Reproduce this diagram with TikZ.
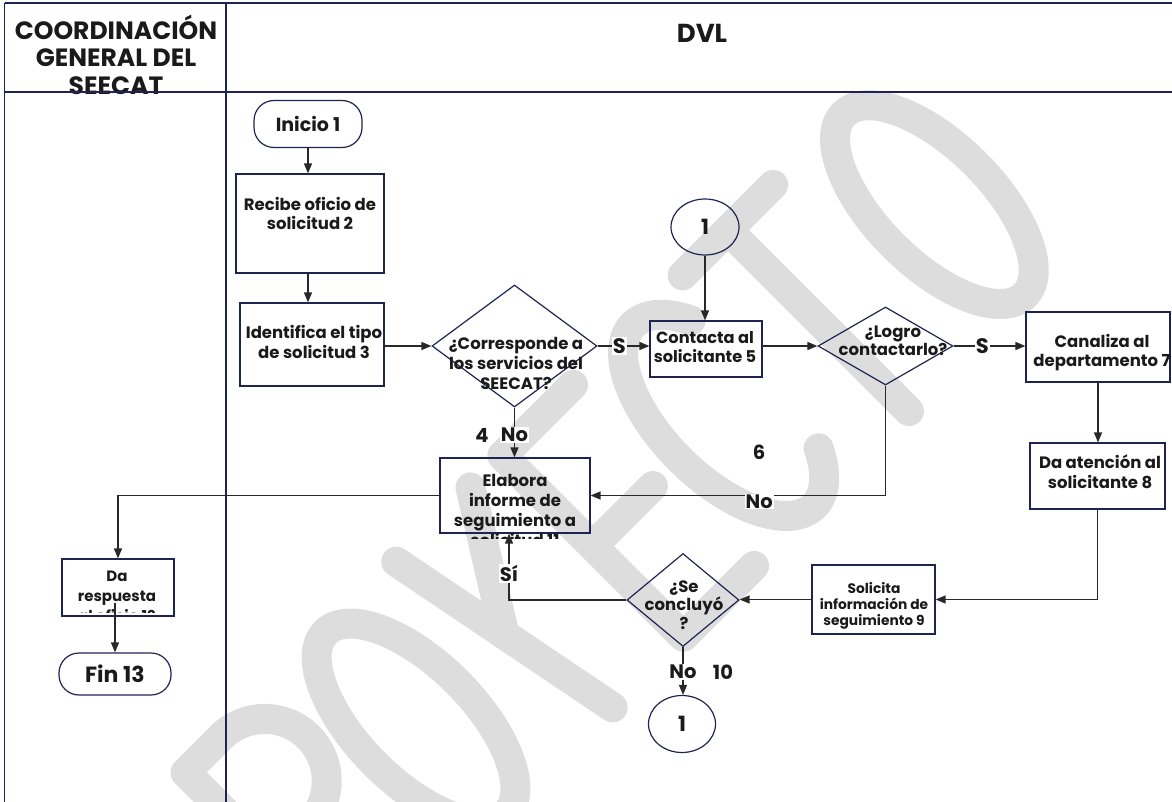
\documentclass[tikz,border=0pt]{standalone}
\usepackage{fontspec}
\setmainfont{Poppins}
\usetikzlibrary{shapes.geometric,arrows.meta}
\definecolor{navy}{RGB}{30,36,82}
\definecolor{ink}{RGB}{26,26,26}
\definecolor{wirec}{RGB}{40,40,40}
\definecolor{wmgray}{RGB}{221,221,221}
\newcommand\fsz[2]{\fontsize{#1}{#2}\selectfont\bfseries}
\begin{document}
\begin{tikzpicture}[x=1pt,y=-1pt,
  box/.style={draw=navy, line width=1.2pt, rectangle, inner sep=0pt},
  term/.style={box, rounded corners=20pt, text=ink},
  dia/.style={draw=navy, line width=1.2pt, diamond, inner sep=0pt},
  conn/.style={draw=navy, line width=1.2pt, ellipse, inner sep=0pt, font=\fsz{21}{24}, text=ink},
  txt/.style={align=center, inner sep=0pt, text=ink, font=\fsz{16.5}{19.5}},
  lbl/.style={fill=white, inner sep=1pt, text=ink, font=\fsz{19.5}{22}},
  num/.style={inner sep=0pt, text=ink, font=\fsz{19.5}{22}},
  wire/.style={draw=wirec, line width=1.3pt},
  flow/.style={wire, -{Triangle[length=10pt,width=8pt]}},
  lane/.style={draw=navy, line width=1.8pt},
  wm/.style={draw=wmgray, line width=30pt, line cap=round, line join=round}]
\useasboundingbox (0,0) rectangle (1172,802);

% watermark lettering, drawn along a 45 degree baseline
\begin{scope}[shift={(660,660)}, rotate=45, x=1pt, y=1pt]
  % R
  \draw[wm] (-415,0) -- (-415,256) -- (-365,256) arc[start angle=90, end angle=-90, radius=62] -- (-415,132);
  \draw[wm] (-380,132) -- (-310,0);
  % O
  \draw[wm] (-217,128) ellipse[x radius=58, y radius=128];
  % Y
  \draw[wm] (-117,256) -- (-67,0);
  \draw[wm] (-12,256) -- (-92,128);
  % E
  \draw[wm] (133,256) -- (33,256) -- (33,0) -- (133,0);
  \draw[wm] (33,128) -- (118,128);
  % C
  \draw[wm] (261.8,218.5) arc[start angle=45, end angle=315, x radius=62, y radius=128];
  % T
  \draw[wm] (288,256) -- (416,256);
  \draw[wm] (352,256) -- (352,0);
  % O
  \draw[wm] (516,128) ellipse[x radius=58, y radius=128];
\end{scope}

% lane headers
\node[align=center, inner sep=0pt, text=ink, font=\fsz{25}{27.5}] (hdrA) at (116,54.5) {COORDINACIÓN\\GENERAL DEL\\SEECAT};
\node[inner sep=0pt, text=ink, font=\fsz{26}{28}] (hdrB) at (702,33) {DVL};

% steps
\node[term, minimum width=108, minimum height=47, font=\fsz{19}{22}] (n1) at (308,124) {Inicio 1};
\node[box, minimum width=148, minimum height=99] (n2) at (310,223.5) {};
\node[txt] (t2) at (310,213.5) {Recibe oficio de\\solicitud 2};
\node[box, minimum width=144, minimum height=83] (n3) at (312,344.5) {};
\node[txt] (t3) at (314,342) {Identifica el tipo\\de solicitud 3};
\node[dia, minimum width=165, minimum height=122] (d4) at (514.5,346) {};
\node[txt, font=\fsz{16.5}{20}] (t4) at (516,363) {¿Corresponde a\\los servicios del\\SEECAT?};
\node[conn, minimum width=68, minimum height=56] (j1) at (705,227) {1};
\node[box, minimum width=112, minimum height=56] (c5) at (706,349) {};
\node[txt, font=\fsz{16.2}{19.5}] (t5) at (705,347) {Contacta al\\solicitante 5};
\node[dia, minimum width=135, minimum height=78] (d6) at (885.5,346) {};
\node[txt, font=\fsz{16.5}{18}] (t6) at (893,341) {¿Logro\\contactarlo?};
\node[box, minimum width=144, minimum height=70] (n7) at (1098,347) {};
\node[txt] (t7) at (1102,352.5) {Canaliza al\\departamento 7};
\node[box, minimum width=135, minimum height=66] (n8) at (1097.5,476) {};
\node[txt] (t8) at (1100,471.5) {Da atención al\\solicitante 8};
\node[box, minimum width=123, minimum height=69] (n9) at (873.5,599.5) {};
\node[txt, font=\fsz{13.8}{16}] (t9) at (874,606) {Solicita\\información de\\seguimiento 9};
\node[dia, minimum width=112, minimum height=93] (d10) at (683,600) {};
\node[txt, font=\fsz{16.5}{18.5}] (t10) at (684,605) {¿Se\\concluyó\\?};
\node[conn, minimum width=67, minimum height=57] (j2) at (682,724) {1};
\node[box, minimum width=150, minimum height=75] (n11) at (515,495.5) {};
\begin{scope}
  \clip (430,450) rectangle (600,538);
  \node[txt, font=\fsz{16.5}{20}] (t11) at (515,510) {Elabora\\informe de\\seguimiento a\\solicitud 11};
\end{scope}
\node[box, minimum width=112, minimum height=57] (n12) at (118,587.5) {};
\begin{scope}
  \clip (50,550) rectangle (190,612);
  \node[txt, font=\fsz{15}{20}] (t12) at (117,596) {Da\\respuesta\\al oficio 12};
\end{scope}
\node[term, minimum width=112, minimum height=42, font=\fsz{22}{24}] (n13) at (115,674) {Fin 13};

% connectors
\draw[flow] (n1.south) -- (n1.south |- n2.north);
\draw[flow] (n2.south -| n1.south) -- (n3.north -| n1.south);
\draw[flow] (n3.east |- d4.west) -- (d4.west);
\draw[flow] (d4.east) -- node[lbl, pos=0.42, font=\fsz{21}{22}] (s1) {S} (c5.west |- d4.east);
\draw[flow] (j1.south) -- (j1.south |- c5.north);
\draw[flow] (c5.east |- d6.west) -- (d6.west);
\draw[flow] (d6.east) -- node[lbl, pos=0.4, font=\fsz{21}{22}] (s2) {S} (n7.west |- d6.east);
\draw[flow] (n7.south) -- (n7.south |- n8.north);
\draw[flow] (n8.south) |- (n9.east);
\draw[flow] (n9.west) -- (n9.west -| d10.east);
\draw[flow] (d10.west) -| node[lbl, pos=0.7] (si) {Sí} ([xshift=-6pt]n11.south);
\draw[flow] (d4.south) -- node[lbl, pos=0.55] (no1) {No} (d4.south |- n11.north);
\node[num] (k4) at (482,435) {4};
\draw[flow] (d6.south) |- node[lbl, pos=0.714, yshift=-6pt] (no2) {No} (n11.east);
\node[num] (k6) at (759,452) {6};
\draw[flow] (d10.south) -- node[lbl, pos=0.52] (no3) {No} (d10.south |- j2.north);
\node[num] (k10) at (723,672) {10};
\draw[flow] (n11.west) -| (n12.north);
\coordinate (r12) at (115,603);
\draw[flow] (r12) -- (r12 |- n13.north);

% lane frame
\draw[lane] (4.5,3) -- (1172,3);
\draw[lane] (4.5,92) -- (1172,92);
\draw[lane, line width=1.5pt] (4.5,3) -- (4.5,802);
\draw[lane] (226,3) -- (226,802);
\end{tikzpicture}
\end{document}
